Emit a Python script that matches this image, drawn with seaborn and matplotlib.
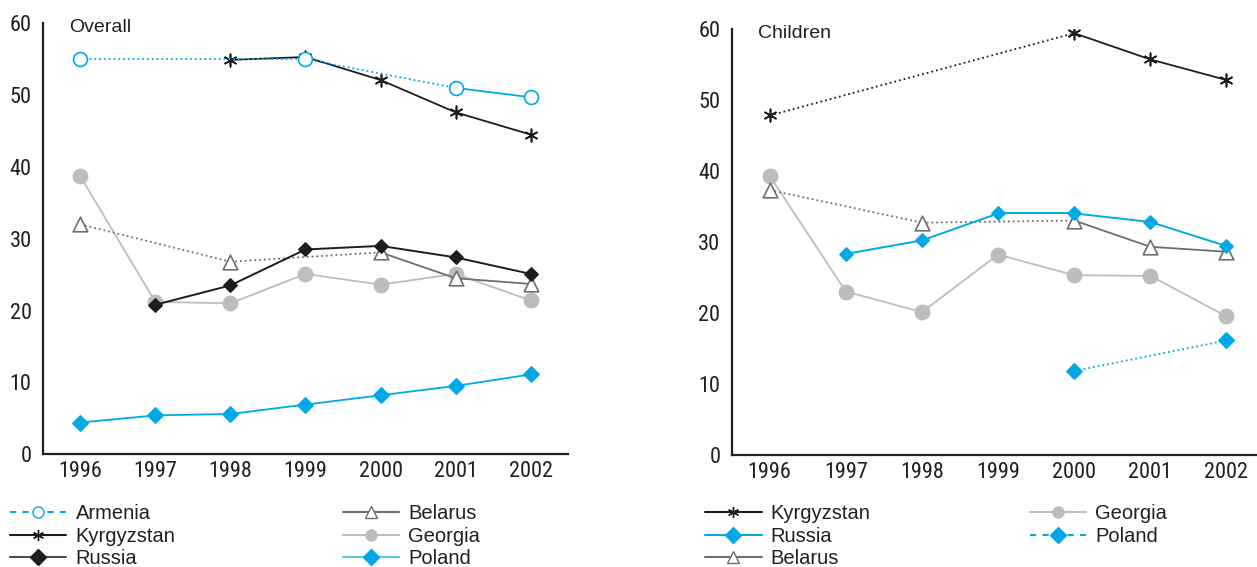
import numpy as np
import pandas as pd
import matplotlib
matplotlib.use("Agg")
import matplotlib.pyplot as plt
from matplotlib.lines import Line2D
from matplotlib import font_manager as fm
import seaborn as sns

# ---- data ----
years = [1996, 1997, 1998, 1999, 2000, 2001, 2002]
nan = np.nan

# Overall
ov_armenia = [55.0, nan, nan, 55.0, nan, 51.0, 49.7]
ov_kyrgyzstan = [nan, nan, 54.9, 55.3, 52.1, 47.6, 44.5]
ov_russia = [nan, 20.8, 23.5, 28.5, 29.0, 27.4, 25.1]
ov_belarus = [32.0, nan, 26.8, nan, 28.1, 24.5, 23.7]
ov_georgia = [38.7, 21.2, 21.0, 25.1, 23.6, 25.1, 21.4]
ov_poland = [4.4, 5.4, 5.6, 6.9, 8.2, 9.5, 11.1]

# Children
ch_kyrgyzstan = [47.8, nan, nan, nan, 59.4, 55.7, 52.8]
ch_georgia = [39.3, 23.0, 20.1, 28.2, 25.3, 25.2, 19.5]
ch_russia = [nan, 28.3, 30.2, 34.0, 34.0, 32.8, 29.4]
ch_poland = [nan, nan, nan, nan, 11.8, nan, 16.1]
ch_belarus = [37.3, nan, 32.7, nan, 33.0, 29.3, 28.6]

BLUE = "#00a9e6"
BLACK = "#1f1c1d"
DGREY = "#6d6e70"
LGREY = "#bcbdbf"
AXC = "#231f20"

# style per country: line colour, marker, marker face, marker edge, size
styles = {
    "Armenia": dict(color=BLUE, marker="o", face="white", edge=BLUE, s=100, lw=1.3),
    "Kyrgyzstan": dict(color=BLACK, marker=(6, 2, 0), face=BLACK, edge=BLACK, s=80, lw=1.3),
    "Russia_ov": dict(color=BLACK, marker="D", face=BLACK, edge=BLACK, s=45, lw=1.4),
    "Russia_ch": dict(color=BLUE, marker="D", face=BLUE, edge=BLUE, s=45, lw=1.4),
    "Belarus": dict(color=DGREY, marker="^", face="white", edge=DGREY, s=110, lw=1.3),
    "Georgia": dict(color=LGREY, marker="o", face=LGREY, edge=LGREY, s=105, lw=1.3),
    "Poland": dict(color=BLUE, marker="D", face=BLUE, edge=BLUE, s=60, lw=1.3),
}

sns.set_style("white")
plt.rcParams["font.family"] = ["Liberation Sans", "DejaVu Sans"]

# look for an upright narrow face for the tick numbers
tick_prop = None
for f in fm.fontManager.ttflist:
    if f.name in ("Liberation Sans Narrow", "Roboto Condensed", "Open Sans Condensed") \
            and f.style == "normal" and f.weight in ("normal", 400, "regular"):
        tick_prop = fm.FontProperties(fname=f.fname)
        break
if tick_prop is None:
    tick_prop = fm.FontProperties(family="Liberation Sans")
tick_prop.set_size(16)

fig = plt.figure(figsize=(12.57, 5.67), dpi=100)
ax1 = fig.add_axes([0.034, 0.199, 0.418, 0.760])
ax2 = fig.add_axes([0.582, 0.198, 0.424, 0.751])


def draw_series(ax, values, st, z):
    df = pd.DataFrame({"x": np.arange(len(years)), "y": values}).dropna()
    xs = df["x"].to_numpy()
    ys = df["y"].to_numpy()
    for i in range(len(xs) - 1):
        seg = pd.DataFrame({"x": xs[i:i + 2], "y": ys[i:i + 2]})
        ls = "-" if xs[i + 1] - xs[i] == 1 else ":"
        sns.lineplot(data=seg, x="x", y="y", ax=ax, color=st["color"],
                     linestyle=ls, linewidth=st["lw"], zorder=z, sort=False)
    sns.scatterplot(data=df, x="x", y="y", ax=ax, marker=st["marker"], s=st["s"],
                    color=st["face"], edgecolor=st["edge"], linewidth=1.2,
                    zorder=z + 0.5)


# left panel, back to front
draw_series(ax1, ov_georgia, styles["Georgia"], 2)
draw_series(ax1, ov_belarus, styles["Belarus"], 3)
draw_series(ax1, ov_russia, styles["Russia_ov"], 4)
draw_series(ax1, ov_poland, styles["Poland"], 4)
draw_series(ax1, ov_kyrgyzstan, styles["Kyrgyzstan"], 5)
draw_series(ax1, ov_armenia, styles["Armenia"], 6)

# right panel
draw_series(ax2, ch_georgia, styles["Georgia"], 2)
draw_series(ax2, ch_belarus, styles["Belarus"], 3)
draw_series(ax2, ch_russia, styles["Russia_ch"], 4)
draw_series(ax2, ch_poland, styles["Poland"], 4)
draw_series(ax2, ch_kyrgyzstan, styles["Kyrgyzstan"], 5)

for ax, title in [(ax1, "Overall"), (ax2, "Children")]:
    ax.set_xlim(-0.5, len(years) - 0.5)
    ax.set_ylim(0, 60)
    ax.set_xlabel("")
    ax.set_ylabel("")
    ax.set_xticks(np.arange(len(years)))
    ax.set_xticklabels([str(y) for y in years], fontproperties=tick_prop)
    ax.set_xticks(np.arange(len(years) - 1) + 0.5, minor=True)
    ax.set_yticks([0, 10, 20, 30, 40, 50, 60])
    ax.set_yticklabels(["0", "10", "20", "30", "40", "50", "60"],
                       fontproperties=tick_prop)
    ax.tick_params(axis="x", which="major", length=0, pad=5, colors=AXC)
    ax.tick_params(axis="x", which="minor", direction="in", length=4,
                   width=1.2, color=AXC)
    ax.tick_params(axis="y", which="major", length=3, width=1.2, pad=5,
                   colors=AXC)
    for side in ["top", "right"]:
        ax.spines[side].set_visible(False)
    for side in ["left", "bottom"]:
        ax.spines[side].set_color(AXC)
        ax.spines[side].set_linewidth(1.6)
    ax.grid(False)
    ax.text(0.05, 0.99, title, transform=ax.transAxes, fontsize=14,
            va="center", ha="left", color=AXC)
    for lbl in ax.get_xticklabels() + ax.get_yticklabels():
        lbl.set_color(AXC)


def handle(st, ls="-"):
    return Line2D([], [], color=st["color"], linestyle=ls, linewidth=1.5,
                  marker=st["marker"], markerfacecolor=st["face"],
                  markeredgecolor=st["edge"], markersize=8)


left_handles = [
    (handle(styles["Armenia"], (0, (3, 3))), "Armenia"),
    (handle(styles["Kyrgyzstan"]), "Kyrgyzstan"),
    (handle(dict(styles["Russia_ov"], color="#4d4d4f")), "Russia"),
    (handle(styles["Belarus"]), "Belarus"),
    (handle(styles["Georgia"]), "Georgia"),
    (handle(dict(styles["Poland"], color="#5bc4ef")), "Poland"),
]
right_handles = [
    (handle(styles["Kyrgyzstan"]), "Kyrgyzstan"),
    (handle(styles["Russia_ch"]), "Russia"),
    (handle(styles["Belarus"]), "Belarus"),
    (handle(styles["Georgia"]), "Georgia"),
    (handle(styles["Poland"], (0, (3, 3))), "Poland"),
]

for hl, x0, cs in [(left_handles, 0.0, 8.3), (right_handles, 0.553, 7.9)]:
    leg = fig.legend([h for h, _ in hl], [l for _, l in hl], ncol=2,
                     loc="upper left", bbox_to_anchor=(x0, 0.128),
                     frameon=False, fontsize=14.5, handlelength=2.8,
                     handletextpad=0.45, labelspacing=0.17,
                     columnspacing=cs, borderpad=0)
    for t in leg.get_texts():
        t.set_color(AXC)

fig.savefig("out.png", dpi=100)
